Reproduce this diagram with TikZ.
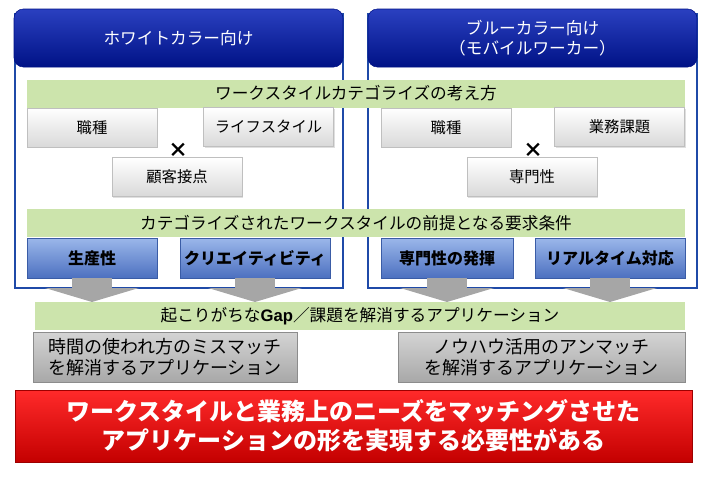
\documentclass[tikz,border=0pt]{standalone}
\usepackage{fontspec}
\setmainfont{Noto Sans CJK JP}
\newfontfamily\latinfont{Liberation Sans}
\usetikzlibrary{arrows.meta,shadows}
\definecolor{hdrtop}{HTML}{2A40C0}
\definecolor{hdrbot}{HTML}{001286}
\definecolor{frameblue}{HTML}{1F4AA8}
\definecolor{bandgreen}{HTML}{CCE4AC}
\definecolor{bluetop}{HTML}{9BB7EA}
\definecolor{bluebot}{HTML}{4C70C0}
\definecolor{blueline}{HTML}{3A5CA6}
\definecolor{greytop}{HTML}{D4D4D4}
\definecolor{greybot}{HTML}{A8A8A8}
\definecolor{arrowgrey}{HTML}{A6A6A6}
\definecolor{redtop}{HTML}{FF2A2A}
\definecolor{redbot}{HTML}{C40000}

\begin{document}
\begin{tikzpicture}[x=0.75pt,y=-0.75pt,
  header/.style={rectangle, rounded corners=7pt, top color=hdrtop, bottom color=hdrbot,
                 draw=hdrbot, minimum width=246.75pt, minimum height=43.5pt, align=center,
                 text=white, font=\fontsize{12.5}{15.5}\selectfont},
  frame/.style={draw=frameblue, line width=1.2pt},
  band/.style={rectangle, fill=bandgreen, minimum height=21pt, inner sep=0pt,
               font=\fontsize{12.5}{14}\selectfont},
  wbox/.style={rectangle, top color=white, bottom color=black!15, draw=black!25,
               minimum width=97.5pt, minimum height=29.25pt,
               drop shadow={shadow xshift=.8pt, shadow yshift=-.8pt, opacity=.25},
               font=\fontsize{11.5}{13}\selectfont},
  bbox/.style={rectangle, top color=bluetop, bottom color=bluebot, draw=blueline,
               minimum width=97.5pt, minimum height=30pt, inner sep=1pt,
               drop shadow={shadow xshift=.8pt, shadow yshift=-.8pt, opacity=.3},
               font=\fontsize{12}{13}\selectfont\bfseries},
  gbox/.style={rectangle, top color=greytop, bottom color=greybot, draw=black!45,
               minimum height=37.5pt, align=center, inner sep=1pt,
               drop shadow={shadow xshift=.8pt, shadow yshift=-.8pt, opacity=.3},
               font=\fontsize{13.5}{15.5}\selectfont},
  rbox/.style={rectangle, top color=redtop, bottom color=redbot, draw=redbot!80!black,
               minimum width=507.75pt, minimum height=54pt, align=center, text=white,
               drop shadow={shadow xshift=1pt, shadow yshift=-1pt, opacity=.3},
               font=\fontsize{18}{22}\selectfont\bfseries},
  cross/.style={font=\fontsize{15}{15}\selectfont\bfseries, inner sep=0pt},
  garrow/.style={draw=arrowgrey, line width=30pt,
                 -{Triangle[width=70pt,length=10.5pt]}}
]
  \useasboundingbox (0,0) rectangle (708,479);

  % frames and headers
  \draw[frame] (15,14) rectangle (343,288);
  \draw[frame] (368,14) rectangle (697,288);
  \node[header] (hdrL) at (178.5,38) {ホワイトカラー向け};
  \node[header] (hdrR) at (532.5,38) {ブルーカラー向け\\（モバイルワーカー）};

  % categorization
  \node[band, minimum width=493.5pt] (catband) at (356,93.5) {ワークスタイルカテゴライズの考え方};
  \node[wbox] (jobL)  at (92,127.5)  {職種};
  \node[wbox] (lifeL) at (268.5,127) {ライフスタイル};
  \node[wbox] (custL) at (177,177)   {顧客接点};
  \node[cross] (crossL) at (178,150) {×};
  \node[wbox] (jobR)  at (446,127.5) {職種};
  \node[wbox] (taskR) at (619.5,127) {業務課題};
  \node[wbox] (specR) at (532,177)   {専門性};
  \node[cross] (crossR) at (533,150) {×};

  % requirements
  \node[band, minimum width=493.5pt] (reqband) at (356,223)
    {カテゴライズされたワークスタイルの前提となる要求条件};
  \node[bbox] (prodL) at (92,258)  {生産性};
  \node[bbox, minimum width=112.5pt] (creaL) at (255,258) {クリエイティビティ};
  \node[bbox, minimum width=99pt] (expR) at (447,258) {専門性の発揮};
  \node[bbox, minimum width=112.5pt] (realR) at (610,258) {リアルタイム対応};

  % arrows down to the gap band
  \coordinate (gaptop) at (360,302);
  \foreach \n in {prodL,creaL,expR,realR}
    \draw[garrow] (\n.south) -- (\n.south |- gaptop);

  % gap / applications
  \node[band, minimum width=487.5pt] (gapband) at (360,316)
    {起こりがちな{\latinfont\bfseries Gap}／課題を解消するアプリケーション};
  \node[gbox, minimum width=198pt] (appL) at (165,357)
    {時間の使われ方のミスマッチ\\を解消するアプリケーション};
  \node[gbox, minimum width=215.25pt] (appR) at (541.5,357)
    {ノウハウ活用のアンマッチ\\を解消するアプリケーション};

  % conclusion
  \node[rbox] (need) at (353.5,426)
    {ワークスタイルと業務上のニーズをマッチングさせた\\アプリケーションの形を実現する必要性がある};
\end{tikzpicture}
\end{document}
